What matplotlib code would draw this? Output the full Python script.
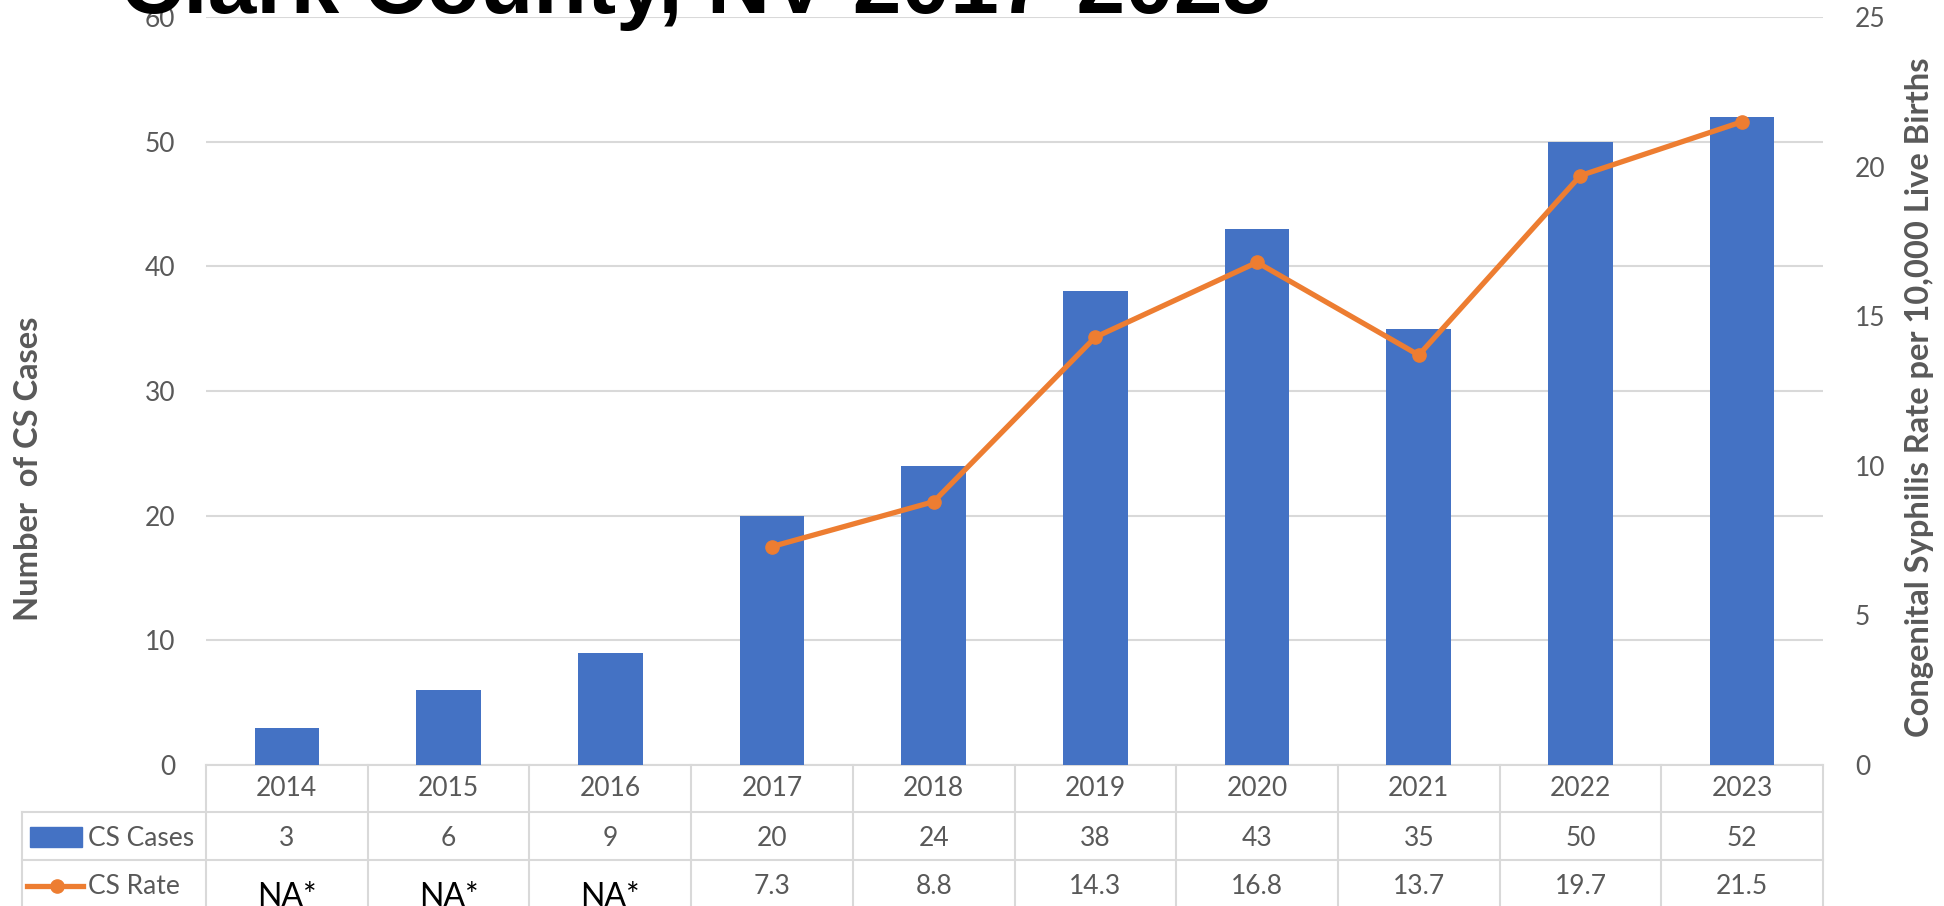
import matplotlib

matplotlib.use("Agg")
import matplotlib.pyplot as plt
from matplotlib.patches import Rectangle
from matplotlib.lines import Line2D

# data
years = ["2014", "2015", "2016", "2017", "2018", "2019", "2020", "2021", "2022", "2023"]
cs_cases = [3, 6, 9, 20, 24, 38, 43, 35, 50, 52]
rate_years = ["2017", "2018", "2019", "2020", "2021", "2022", "2023"]
cs_rate = [7.3, 8.8, 14.3, 16.8, 13.7, 19.7, 21.5]
rate_labels = ["NA*", "NA*", "NA*", "7.3", "8.8", "14.3", "16.8", "13.7", "19.7", "21.5"]

BLUE = "#4472C4"
ORANGE = "#ED7D31"
GREY_TEXT = "#595959"
GRID = "#D9D9D9"
FONT = "Lato"

W, H = 1944, 906
fig = plt.figure(figsize=(W / 100, H / 100), dpi=100)

# plot area in pixels: left 206, right 1823, top 17, bottom 765
x0, x1, y_top, y_bot = 206, 1823, 17, 765
ax = fig.add_axes([x0 / W, (H - y_bot) / H, (x1 - x0) / W, (y_bot - y_top) / H])

xs = list(range(len(years)))
ax.bar(xs, cs_cases, width=0.4, color=BLUE, zorder=2)
ax.set_xlim(-0.5, len(years) - 0.5)
ax.set_ylim(0, 60)
ax.set_yticks(range(0, 61, 10))
ax.set_xticks([])
ax.grid(axis="y", color=GRID, linewidth=1.5, zorder=0)
for s in ax.spines.values():
    s.set_visible(False)
ax.tick_params(axis="y", length=0, pad=22, labelsize=19, labelcolor=GREY_TEXT)
for lbl in ax.get_yticklabels():
    lbl.set_family(FONT)

ax2 = ax.twinx()
rate_x = [years.index(y) for y in rate_years]
ax2.plot(rate_x, cs_rate, color=ORANGE, linewidth=3.8, marker="o",
         markersize=9.5, zorder=3, solid_capstyle="round")
ax2.set_ylim(0, 25)
ax2.set_yticks(range(0, 26, 5))
for s in ax2.spines.values():
    s.set_visible(False)
ax2.tick_params(axis="y", length=0, pad=23, labelsize=19, labelcolor=GREY_TEXT)
for lbl in ax2.get_yticklabels():
    lbl.set_family(FONT)

# data table under the plot
ah = y_bot - y_top
def ay(px):
    return -(px - y_bot) / ah

def dx(px):
    return -0.5 + (px - x0) / ((x1 - x0) / len(years))

tr = ax.get_xaxis_transform()
row_y = [ay(765), ay(812), ay(860), ay(915)]
lkw = dict(color=GRID, linewidth=1.5, transform=tr, clip_on=False, zorder=1)
left_x = dx(22)
ax.add_line(Line2D([-0.5, len(years) - 0.5], [row_y[0]] * 2, **lkw))
for yy in row_y[1:]:
    ax.add_line(Line2D([left_x, len(years) - 0.5], [yy] * 2, **lkw))
for k in range(len(years) + 1):
    ax.add_line(Line2D([k - 0.5] * 2, [row_y[0], row_y[3]], **lkw))
ax.add_line(Line2D([left_x] * 2, [row_y[1], row_y[3]], **lkw))

tkw = dict(transform=tr, ha="center", va="center", fontsize=19,
           color=GREY_TEXT, family=FONT, clip_on=False)
for i, yr in enumerate(years):
    ax.text(i, ay(789), yr, **tkw)
    ax.text(i, ay(838), str(cs_cases[i]), **tkw)
    if rate_labels[i].startswith("NA"):
        ax.text(i, ay(897), rate_labels[i], transform=tr, ha="center", va="center",
                fontsize=23, color="black", family=FONT, clip_on=False)
    else:
        ax.text(i, ay(887), rate_labels[i], **tkw)

# legend keys in table
ax.add_patch(Rectangle((dx(30), ay(847)), dx(82) - dx(30), ay(827) - ay(847),
                       transform=tr, color=BLUE, clip_on=False))
ax.add_line(Line2D([dx(27), dx(83)], [ay(886)] * 2, color=ORANGE, linewidth=3.8,
                   transform=tr, clip_on=False))
ax.add_line(Line2D([dx(57)], [ay(886)], color=ORANGE, marker="o", markersize=9.5,
                   transform=tr, clip_on=False))
ax.text(dx(88), ay(838), "CS Cases", transform=tr, ha="left", va="center",
        fontsize=19, color=GREY_TEXT, family=FONT, clip_on=False)
ax.text(dx(88), ay(886), "CS Rate", transform=tr, ha="left", va="center",
        fontsize=19, color=GREY_TEXT, family=FONT, clip_on=False)

# axis titles
fig.text(29 / W, 1 - 469 / H, "Number  of CS Cases", rotation=90, ha="center",
         va="center", fontsize=23.5, fontweight="bold", color=GREY_TEXT, family=FONT)
fig.text(1919 / W, 1 - 397 / H, "Congenital Syphilis Rate per 10,000 Live Births",
         rotation=90, ha="center", va="center", fontsize=23.5, fontweight="bold",
         color=GREY_TEXT, family=FONT)

# chart title, cropped at the top as in the source slide
fig.text(120 / W, 1 - 13 / H, "Clark County, NV 2017-2023", ha="left", va="baseline",
         fontsize=63, fontweight="bold", color="black", family="Liberation Sans")

fig.savefig("out.png", dpi=100)
